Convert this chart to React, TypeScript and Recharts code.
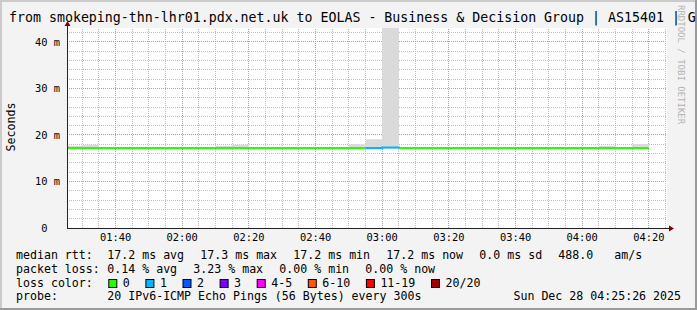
import { ComposedChart, Area, Line, XAxis, YAxis, CartesianGrid, ReferenceLine } from 'recharts';

const W = 697;
const H = 310;
const MONO = '"DejaVu Sans Mono", monospace';

// 5-minute rrd intervals (start time of each step)
const intervalStart = [
  '01:25', '01:30', '01:35', '01:40', '01:45', '01:50', '01:55', '02:00', '02:05', '02:10',
  '02:15', '02:20', '02:25', '02:30', '02:35', '02:40', '02:45', '02:50', '02:55', '03:00',
  '03:05', '03:10', '03:15', '03:20', '03:25', '03:30', '03:35', '03:40', '03:45', '03:50',
  '03:55', '04:00', '04:05', '04:10', '04:15',
];
const lastIntervalEnd = '04:20';
const graphEnd = '04:25:26';

// median rtt in ms
const medianMs = [
  17.2, 17.2, 17.2, 17.2, 17.2, 17.2, 17.2, 17.2, 17.2, 17.2,
  17.2, 17.2, 17.2, 17.2, 17.2, 17.2, 17.2, 17.2, 17.2, 17.3,
  17.2, 17.2, 17.2, 17.2, 17.2, 17.2, 17.2, 17.2, 17.2, 17.2,
  17.2, 17.2, 17.2, 17.2, 17.2,
];
// lost pings per step (of 20)
const lossPings = [
  0, 0, 0, 0, 0, 0, 0, 0, 0, 0,
  0, 0, 0, 0, 0, 0, 0, 0, 1, 1,
  0, 0, 0, 0, 0, 0, 0, 0, 0, 0,
  0, 0, 0, 0, 0,
];
// smoke band (min / max ping) in ms
const smokeLowMs = [
  17.0, 17.0, 17.0, 17.0, 17.0, 17.0, 17.0, 17.0, 17.0, 17.0,
  17.0, 17.0, 17.0, 17.0, 17.0, 17.0, 17.0, 17.0, 17.0, 17.0,
  17.0, 17.0, 17.0, 17.0, 17.0, 17.0, 17.0, 17.0, 17.0, 17.0,
  17.0, 17.0, 17.0, 17.0, 17.0,
];
const smokeHighMs = [
  17.7, 17.9, 17.4, 17.4, 17.4, 17.4, 17.4, 17.4, 17.4, 17.7,
  17.9, 17.4, 17.4, 17.4, 17.4, 17.4, 17.4, 18.0, 19.1, 45.0,
  17.4, 17.4, 17.4, 17.4, 17.4, 17.4, 17.4, 17.4, 17.4, 17.4,
  17.4, 17.4, 17.7, 17.4, 18.0,
];

const timeTicks = ['01:40', '02:00', '02:20', '02:40', '03:00', '03:20', '03:40', '04:00', '04:20'];
const valueTicks = [0, 10, 20, 30, 40];
const valueMax = 43;

const lossClasses = [
  { label: '0', lo: 0, hi: 0, color: '#26ff00' },
  { label: '1', lo: 1, hi: 1, color: '#00b8ff' },
  { label: '2', lo: 2, hi: 2, color: '#0059ff' },
  { label: '3', lo: 3, hi: 3, color: '#7e00ff' },
  { label: '4-5', lo: 4, hi: 5, color: '#ff00ff' },
  { label: '6-10', lo: 6, hi: 10, color: '#ff5500' },
  { label: '11-19', lo: 11, hi: 19, color: '#ff0000' },
  { label: '20/20', lo: 20, hi: 20, color: '#a10000' },
];

const toMin = (s: string) => {
  const [h, m, sec] = s.split(':').map(Number);
  return h * 60 + m + (sec || 0) / 60;
};
const fmtTime = (v: number) => {
  const h = Math.floor(v / 60);
  const m = Math.round(v - h * 60);
  return `${String(h).padStart(2, '0')}:${String(m).padStart(2, '0')}`;
};
const classOf = (loss: number) => lossClasses.findIndex((c) => loss >= c.lo && loss <= c.hi);

const xEnd = toMin(graphEnd);
const xStart = xEnd - 180;

const n = intervalStart.length;
const rows = [...intervalStart, lastIntervalEnd].map((t, i) => {
  const j = Math.min(i, n - 1);
  const row: Record<string, any> = { t: toMin(t), smoke: [smokeLowMs[j], smokeHighMs[j]] };
  lossClasses.forEach((_, c) => {
    const cur = i < n && classOf(lossPings[i]) === c;
    const prev = i > 0 && classOf(lossPings[i - 1]) === c;
    row[`m${c}`] = cur || prev ? medianMs[j] : null;
  });
  return row;
});

// grid: minor every 5 min / 2 m, major (red) every 20 min / 10 m
const gridX: number[] = [];
for (let t = 90; t <= 265; t += 5) gridX.push(t);
const gridY: number[] = [];
for (let v = 2; v <= 42; v += 2) gridY.push(v);

const MINOR = '#c0c0c0';
const MAJOR = '#ec8888';

// dotted grid line snapped to the pixel grid, colour taken from the line's stroke prop
const gridShape = (p: any) => {
  const c = (v: number) => Math.floor(v) + 0.5;
  const vertical = Math.abs(p.x1 - p.x2) < 0.01;
  const x1 = vertical ? c(p.x1) : p.x1;
  const x2 = vertical ? c(p.x2) : p.x2;
  const y1 = vertical ? p.y1 : c(p.y1);
  const y2 = vertical ? p.y2 : c(p.y2);
  return <line x1={x1} y1={y1} x2={x2} y2={y2} stroke={p.stroke} strokeWidth={1} strokeDasharray="1 1" />;
};

const YTick = (props: any) => {
  const { x, y, payload } = props;
  const v = payload.value;
  return (
    <text x={x} y={y} dy={3.7} textAnchor="end" xmlSpace="preserve" style={{ whiteSpace: 'pre' }}
      fontFamily={MONO} fontSize={10.4} fill="#000">
      {v === 0 ? '0  ' : `${v} m`}
    </text>
  );
};

const line1 = [
  { x: 16, s: 'median rtt:' },
  { x: 107.3, s: '17.2 ms avg' },
  { x: 200.3, s: '17.3 ms max' },
  { x: 293.3, s: '17.2 ms min' },
  { x: 386.3, s: '17.2 ms now' },
  { x: 479.3, s: '0.0 ms sd' },
  { x: 558.3, s: '488.0' },
  { x: 614.3, s: 'am/s' },
];
const line2 = [
  { x: 16, s: 'packet loss:' },
  { x: 107.3, s: '0.14 % avg' },
  { x: 193.3, s: '3.23 % max' },
  { x: 279.3, s: '0.00 % min' },
  { x: 365.3, s: '0.00 % now' },
];

function Overlay() {
  let sx = 108.3;
  const swatches = lossClasses.map((c) => {
    const el = (
      <g key={c.label}>
        <rect x={sx + 0.5} y={279.5} width={8} height={8} fill={c.color} stroke="#000" strokeWidth={1} />
        <text x={sx + 14.5} y={286.5}>{c.label}</text>
      </g>
    );
    sx += 14.5 + c.label.length * 7 + 15.6;
    return el;
  });
  return (
    <svg width={W} height={H} style={{ position: 'absolute', left: 0, top: 0, pointerEvents: 'none' }}>
      <line x1={0} y1={1} x2={W} y2={1} stroke="#cbcbcb" strokeWidth={2} />
      <line x1={1} y1={0} x2={1} y2={H} stroke="#cbcbcb" strokeWidth={2} />
      <line x1={0} y1={H - 1} x2={W} y2={H - 1} stroke="#9a9a9a" strokeWidth={2} />
      <line x1={W - 1} y1={0} x2={W - 1} y2={H} stroke="#9a9a9a" strokeWidth={2} />
      <text x={9} y={21.5} fontFamily={MONO} fontSize={13.28} fill="#000" xmlSpace="preserve">
        from smokeping-thn-lhr01.pdx.net.uk to EOLAS - Business &amp; Decision Group | AS15401 | G
      </text>
      <text transform="translate(15,127) rotate(-90)" textAnchor="middle" fontFamily={MONO} fontSize={11.6} fill="#000">
        Seconds
      </text>
      <text transform="translate(678,5) rotate(90)" fontFamily={MONO} fontSize={9} fill="#b4b4b4">
        RRDTOOL / TOBI OETIKER
      </text>
      {/* axes with arrows */}
      <line x1={67.5} y1={228.5} x2={67.5} y2={25} stroke="#222" strokeWidth={1} />
      <line x1={67} y1={228.5} x2={670} y2={228.5} stroke="#222" strokeWidth={1} />
      <polygon points="67.5,21 64.5,26 70.5,26" fill="#800000" />
      <polygon points="674,228.5 669,225.5 669,231.5" fill="#800000" />
      <g fontFamily={MONO} fontSize={11.6} fill="#000">
        {line1.map((d) => (
          <text key={d.s} x={d.x} y={258.5}>{d.s}</text>
        ))}
        {line2.map((d) => (
          <text key={d.s} x={d.x} y={272.5}>{d.s}</text>
        ))}
        <text x={16} y={286.5}>loss color:</text>
        {swatches}
        <text x={16} y={300}>probe:</text>
        <text x={107.3} y={300}>20 IPv6-ICMP Echo Pings (56 Bytes) every 300s</text>
        <text x={681} y={300} textAnchor="end">Sun Dec 28 04:25:26 2025</text>
      </g>
    </svg>
  );
}

export default function App() {
  return (
    <div style={{ position: 'absolute', left: 0, top: 0, width: W, height: H, background: '#f3f3f3' }}>
      <ComposedChart width={W} height={H} data={rows} margin={{ top: 28, right: 30, bottom: 52, left: 7 }}>
        <CartesianGrid fill="#ffffff" horizontal={false} vertical={false} />
        {gridX.map((v) => (
          <ReferenceLine key={`gx${v}`} x={v} stroke={v % 20 === 0 ? MAJOR : MINOR}
            strokeDasharray="1 1" shape={gridShape} zIndex={-50} />
        ))}
        {gridY.map((v) => (
          <ReferenceLine key={`gy${v}`} y={v} stroke={v % 10 === 0 ? MAJOR : MINOR}
            strokeDasharray="1 1" shape={gridShape} zIndex={-50} />
        ))}
        <XAxis type="number" dataKey="t" domain={[xStart, xEnd]} allowDataOverflow
          ticks={timeTicks.map(toMin)} tickFormatter={fmtTime} axisLine={false} tickLine={false}
          tickSize={0} tickMargin={6} height={30} interval={0}
          tick={{ fontFamily: MONO, fontSize: 10.4, fill: '#000' }} />
        <YAxis type="number" domain={[0, valueMax]} allowDataOverflow ticks={valueTicks}
          axisLine={false} tickLine={false} tickSize={0} tickMargin={7} width={60} interval={0}
          tick={<YTick />} />
        <Area type="stepAfter" dataKey="smoke" stroke="none" fill="#dadada" fillOpacity={1}
          isAnimationActive={false} />
        {lossClasses.map((c, i) => (
          <Line key={c.label} type="stepAfter" dataKey={`m${i}`} stroke={c.color} strokeWidth={2}
            dot={false} activeDot={false} connectNulls={false} isAnimationActive={false} />
        ))}
      </ComposedChart>
      <Overlay />
    </div>
  );
}
